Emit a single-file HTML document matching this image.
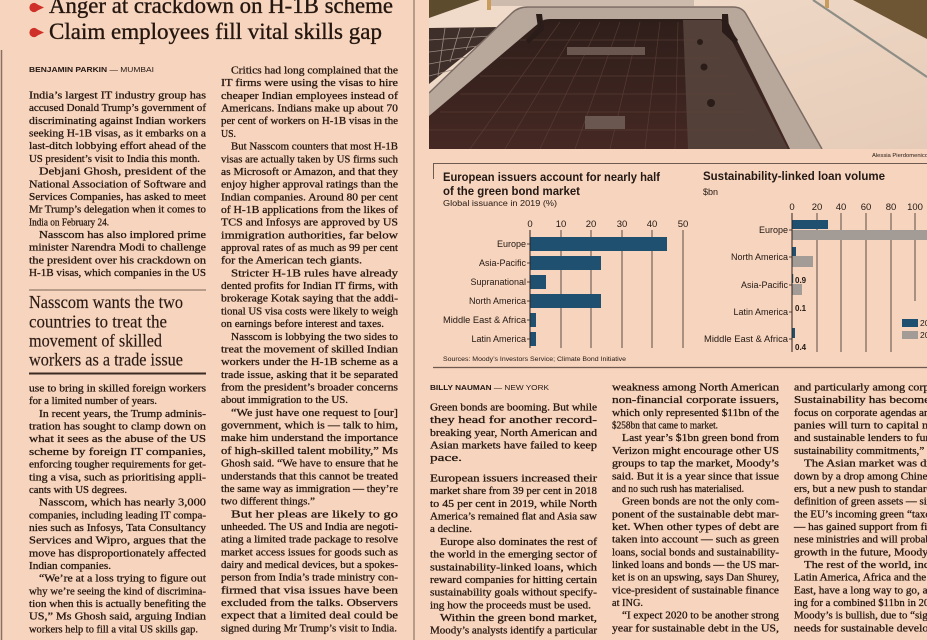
<!DOCTYPE html>
<html><head><meta charset="utf-8"><style>
html,body{margin:0;padding:0;background:#f6d4bd;width:927px;height:640px;overflow:hidden}
svg{display:block}
.b{font-family:"Liberation Serif",serif;font-size:11px;fill:#24160f;stroke:#24160f;stroke-width:0.28}
.s{font-family:"Liberation Sans",sans-serif;fill:#231814}
.hd{font-family:"Liberation Serif",serif;font-size:23px;fill:#24160f;stroke:#24160f;stroke-width:0.35}
.pq{font-family:"Liberation Serif",serif;font-size:17.5px;fill:#2a1a14;stroke:#2a1a14;stroke-width:0.15}
</style></head><body>
<svg width="927" height="640" viewBox="0 0 927 640" xmlns="http://www.w3.org/2000/svg">
<defs>
<clipPath id="ph"><rect x="429" y="0" width="498" height="149"/></clipPath>
<linearGradient id="pg" x1="0" y1="0" x2="0" y2="1"><stop offset="0" stop-color="#2e1e1a"/><stop offset="1" stop-color="#452823"/></linearGradient>
<linearGradient id="rg" x1="0" y1="0" x2="1" y2="1"><stop offset="0" stop-color="#f1dccb"/><stop offset="1" stop-color="#e6ccb8"/></linearGradient>
</defs>
<rect width="927" height="640" fill="#f6d4bd"/>

<line x1="1.5" y1="50" x2="1.5" y2="640" stroke="#8a7060" stroke-width="1.5"/>
<line x1="414" y1="0" x2="414" y2="640" stroke="#7a6458" stroke-width="1"/>

<g fill="#d0302a">
<circle cx="34" cy="7.5" r="4.6"/><polygon points="34,2.9 44,7.5 34,12.1"/>
<circle cx="34" cy="32.5" r="4.6"/><polygon points="34,27.9 44,32.5 34,37.1"/>
</g>
<text class="hd" x="49" y="13" textLength="344" lengthAdjust="spacingAndGlyphs">Anger at crackdown on H-1B scheme</text>
<text class="hd" x="49" y="39" textLength="333" lengthAdjust="spacingAndGlyphs">Claim employees fill vital skills gap</text>

<text class="s" x="29" y="72" font-size="7.5" textLength="125" lengthAdjust="spacingAndGlyphs"><tspan font-weight="bold">BENJAMIN PARKIN</tspan><tspan> — MUMBAI</tspan></text>

<g class="b">
<text x="29" y="98.5" textLength="177" lengthAdjust="spacingAndGlyphs">India’s largest IT industry group has</text>
<text x="29" y="111.2" textLength="177" lengthAdjust="spacingAndGlyphs">accused Donald Trump’s government of</text>
<text x="29" y="123.9" textLength="177" lengthAdjust="spacingAndGlyphs">discriminating against Indian workers</text>
<text x="29" y="136.5" textLength="177" lengthAdjust="spacingAndGlyphs">seeking H-1B visas, as it embarks on a</text>
<text x="29" y="149.2" textLength="177" lengthAdjust="spacingAndGlyphs">last-ditch lobbying effort ahead of the</text>
<text x="29" y="161.9" textLength="171" lengthAdjust="spacingAndGlyphs">US president’s visit to India this month.</text>
<text x="39" y="174.6" textLength="167" lengthAdjust="spacingAndGlyphs">Debjani Ghosh, president of the</text>
<text x="29" y="187.3" textLength="177" lengthAdjust="spacingAndGlyphs">National Association of Software and</text>
<text x="29" y="199.9" textLength="177" lengthAdjust="spacingAndGlyphs">Services Companies, has asked to meet</text>
<text x="29" y="212.6" textLength="177" lengthAdjust="spacingAndGlyphs">Mr Trump’s delegation when it comes to</text>
<text x="29" y="225.3" textLength="80" lengthAdjust="spacingAndGlyphs">India on February 24.</text>
<text x="39" y="238.0" textLength="167" lengthAdjust="spacingAndGlyphs">Nasscom has also implored prime</text>
<text x="29" y="250.7" textLength="177" lengthAdjust="spacingAndGlyphs">minister Narendra Modi to challenge</text>
<text x="29" y="263.3" textLength="177" lengthAdjust="spacingAndGlyphs">the president over his crackdown on</text>
<text x="29" y="276.0" textLength="177" lengthAdjust="spacingAndGlyphs">H-1B visas, which companies in the US</text>

<text x="29" y="391.5" textLength="177" lengthAdjust="spacingAndGlyphs">use to bring in skilled foreign workers</text>
<text x="29" y="404.2" textLength="128" lengthAdjust="spacingAndGlyphs">for a limited number of years.</text>
<text x="39" y="416.9" textLength="167" lengthAdjust="spacingAndGlyphs">In recent years, the Trump adminis-</text>
<text x="29" y="429.5" textLength="177" lengthAdjust="spacingAndGlyphs">tration has sought to clamp down on</text>
<text x="29" y="442.2" textLength="177" lengthAdjust="spacingAndGlyphs">what it sees as the abuse of the US</text>
<text x="29" y="454.9" textLength="177" lengthAdjust="spacingAndGlyphs">scheme by foreign IT companies,</text>
<text x="29" y="467.6" textLength="177" lengthAdjust="spacingAndGlyphs">enforcing tougher requirements for get-</text>
<text x="29" y="480.3" textLength="177" lengthAdjust="spacingAndGlyphs">ting a visa, such as prioritising appli-</text>
<text x="29" y="492.9" textLength="98" lengthAdjust="spacingAndGlyphs">cants with US degrees.</text>
<text x="39" y="505.6" textLength="167" lengthAdjust="spacingAndGlyphs">Nasscom, which has nearly 3,000</text>
<text x="29" y="518.3" textLength="177" lengthAdjust="spacingAndGlyphs">companies, including leading IT compa-</text>
<text x="29" y="531.0" textLength="177" lengthAdjust="spacingAndGlyphs">nies such as Infosys, Tata Consultancy</text>
<text x="29" y="543.7" textLength="177" lengthAdjust="spacingAndGlyphs">Services and Wipro, argues that the</text>
<text x="29" y="556.3" textLength="177" lengthAdjust="spacingAndGlyphs">move has disproportionately affected</text>
<text x="29" y="569.0" textLength="82" lengthAdjust="spacingAndGlyphs">Indian companies.</text>
<text x="39" y="581.7" textLength="167" lengthAdjust="spacingAndGlyphs">“We’re at a loss trying to figure out</text>
<text x="29" y="594.4" textLength="177" lengthAdjust="spacingAndGlyphs">why we’re seeing the kind of discrimina-</text>
<text x="29" y="607.1" textLength="177" lengthAdjust="spacingAndGlyphs">tion when this is actually benefiting the</text>
<text x="29" y="619.7" textLength="177" lengthAdjust="spacingAndGlyphs">US,” Ms Ghosh said, arguing Indian</text>
<text x="29" y="632.4" textLength="169" lengthAdjust="spacingAndGlyphs">workers help to fill a vital US skills gap.</text>
</g>

<line x1="29" y1="290" x2="206" y2="290" stroke="#7a6458" stroke-width="1"/>
<text class="pq" x="29" y="308" textLength="154" lengthAdjust="spacingAndGlyphs">Nasscom wants the two</text>
<text class="pq" x="29" y="327.5" textLength="138" lengthAdjust="spacingAndGlyphs">countries to treat the</text>
<text class="pq" x="29" y="346.5" textLength="133" lengthAdjust="spacingAndGlyphs">movement of skilled</text>
<text class="pq" x="29" y="365.5" textLength="154" lengthAdjust="spacingAndGlyphs">workers as a trade issue</text>
<line x1="29" y1="373.5" x2="206" y2="373.5" stroke="#3a2a22" stroke-width="2"/>

<g class="b">
<text x="231" y="73.5" textLength="167" lengthAdjust="spacingAndGlyphs">Critics had long complained that the</text>
<text x="221" y="86.2" textLength="177" lengthAdjust="spacingAndGlyphs">IT firms were using the visas to hire</text>
<text x="221" y="98.9" textLength="177" lengthAdjust="spacingAndGlyphs">cheaper Indian employees instead of</text>
<text x="221" y="111.5" textLength="177" lengthAdjust="spacingAndGlyphs">Americans. Indians make up about 70</text>
<text x="221" y="124.2" textLength="177" lengthAdjust="spacingAndGlyphs">per cent of workers on H-1B visas in the</text>
<text x="221" y="136.9" textLength="15" lengthAdjust="spacingAndGlyphs">US.</text>
<text x="231" y="149.6" textLength="167" lengthAdjust="spacingAndGlyphs">But Nasscom counters that most H-1B</text>
<text x="221" y="162.3" textLength="177" lengthAdjust="spacingAndGlyphs">visas are actually taken by US firms such</text>
<text x="221" y="174.9" textLength="177" lengthAdjust="spacingAndGlyphs">as Microsoft or Amazon, and that they</text>
<text x="221" y="187.6" textLength="177" lengthAdjust="spacingAndGlyphs">enjoy higher approval ratings than the</text>
<text x="221" y="200.3" textLength="177" lengthAdjust="spacingAndGlyphs">Indian companies. Around 80 per cent</text>
<text x="221" y="213.0" textLength="177" lengthAdjust="spacingAndGlyphs">of H-1B applications from the likes of</text>
<text x="221" y="225.7" textLength="177" lengthAdjust="spacingAndGlyphs">TCS and Infosys are approved by US</text>
<text x="221" y="238.3" textLength="177" lengthAdjust="spacingAndGlyphs">immigration authorities, far below</text>
<text x="221" y="251.0" textLength="177" lengthAdjust="spacingAndGlyphs">approval rates of as much as 99 per cent</text>
<text x="221" y="263.7" textLength="141" lengthAdjust="spacingAndGlyphs">for the American tech giants.</text>
<text x="231" y="276.4" textLength="167" lengthAdjust="spacingAndGlyphs">Stricter H-1B rules have already</text>
<text x="221" y="289.1" textLength="177" lengthAdjust="spacingAndGlyphs">dented profits for Indian IT firms, with</text>
<text x="221" y="301.7" textLength="177" lengthAdjust="spacingAndGlyphs">brokerage Kotak saying that the addi-</text>
<text x="221" y="314.4" textLength="177" lengthAdjust="spacingAndGlyphs">tional US visa costs were likely to weigh</text>
<text x="221" y="327.1" textLength="163" lengthAdjust="spacingAndGlyphs">on earnings before interest and taxes.</text>
<text x="231" y="339.8" textLength="167" lengthAdjust="spacingAndGlyphs">Nasscom is lobbying the two sides to</text>
<text x="221" y="352.5" textLength="177" lengthAdjust="spacingAndGlyphs">treat the movement of skilled Indian</text>
<text x="221" y="365.1" textLength="177" lengthAdjust="spacingAndGlyphs">workers under the H-1B scheme as a</text>
<text x="221" y="377.8" textLength="177" lengthAdjust="spacingAndGlyphs">trade issue, asking that it be separated</text>
<text x="221" y="390.5" textLength="177" lengthAdjust="spacingAndGlyphs">from the president’s broader concerns</text>
<text x="221" y="403.2" textLength="127" lengthAdjust="spacingAndGlyphs">about immigration to the US.</text>
<text x="231" y="415.9" textLength="167" lengthAdjust="spacingAndGlyphs">“We just have one request to [our]</text>
<text x="221" y="428.5" textLength="177" lengthAdjust="spacingAndGlyphs">government, which is — talk to him,</text>
<text x="221" y="441.2" textLength="177" lengthAdjust="spacingAndGlyphs">make him understand the importance</text>
<text x="221" y="453.9" textLength="177" lengthAdjust="spacingAndGlyphs">of high-skilled talent mobility,” Ms</text>
<text x="221" y="466.6" textLength="177" lengthAdjust="spacingAndGlyphs">Ghosh said. “We have to ensure that he</text>
<text x="221" y="479.3" textLength="177" lengthAdjust="spacingAndGlyphs">understands that this cannot be treated</text>
<text x="221" y="491.9" textLength="177" lengthAdjust="spacingAndGlyphs">the same way as immigration — they’re</text>
<text x="221" y="504.6" textLength="94" lengthAdjust="spacingAndGlyphs">two different things.”</text>
<text x="231" y="517.3" textLength="167" lengthAdjust="spacingAndGlyphs">But her pleas are likely to go</text>
<text x="221" y="530.0" textLength="177" lengthAdjust="spacingAndGlyphs">unheeded. The US and India are negoti-</text>
<text x="221" y="542.7" textLength="177" lengthAdjust="spacingAndGlyphs">ating a limited trade package to resolve</text>
<text x="221" y="555.3" textLength="177" lengthAdjust="spacingAndGlyphs">market access issues for goods such as</text>
<text x="221" y="568.0" textLength="177" lengthAdjust="spacingAndGlyphs">dairy and medical devices, but a spokes-</text>
<text x="221" y="580.7" textLength="177" lengthAdjust="spacingAndGlyphs">person from India’s trade ministry con-</text>
<text x="221" y="593.4" textLength="177" lengthAdjust="spacingAndGlyphs">firmed that visa issues have been</text>
<text x="221" y="606.1" textLength="177" lengthAdjust="spacingAndGlyphs">excluded from the talks. Observers</text>
<text x="221" y="618.7" textLength="177" lengthAdjust="spacingAndGlyphs">expect that a limited deal could be</text>
<text x="221" y="631.4" textLength="176" lengthAdjust="spacingAndGlyphs">signed during Mr Trump’s visit to India.</text>
</g>

<g clip-path="url(#ph)">
<rect x="429" y="0" width="498" height="149" fill="url(#rg)"/>
<polygon points="429,0 480,0 429,18" fill="#5d4b2e"/>
<polygon points="853,0 927,0 927,39" fill="#6e5634"/>
<line x1="813" y1="0" x2="927" y2="77" stroke="#8d8e86" stroke-width="2.2"/>
<rect x="487" y="0" width="207" height="6" fill="#cdbcae"/>
<rect x="487" y="0" width="4" height="10" fill="#c89c5c"/>
<rect x="825" y="0" width="4" height="8" fill="#c89c5c"/>
<polygon points="429,28 500,27 429,84" fill="#3e2f2a"/>
<g stroke="#9a8a80" stroke-width="0.8">
<line x1="429" y1="40" x2="490" y2="36"/><line x1="429" y1="52" x2="478" y2="46"/><line x1="429" y1="64" x2="466" y2="57"/><line x1="429" y1="76" x2="452" y2="70"/>
<line x1="445" y1="28" x2="438" y2="76"/><line x1="460" y1="28" x2="450" y2="62"/><line x1="475" y1="28" x2="466" y2="50"/>
</g>
<path d="M429,93 L512,13 Q518,7 528,7 L733,7 Q742,7 746,14 L822,149 L429,149 Z" fill="#b8a79b"/>
<path d="M429,93 L512,13 Q518,7 528,7 L733,7 Q742,7 746,14 L822,149" fill="none" stroke="#7a6a62" stroke-width="1.5"/>
<path d="M429,116 L540,22 Q544,19 550,19 L720,19 Q726,19 729,24 L790,149 L429,149 Z" fill="url(#pg)"/>
<polygon points="683,20 721,20 788,149 688,149" fill="#524039"/>
<g stroke="#5e4038" stroke-width="0.7" opacity="0.8">
<line x1="560" y1="22" x2="470" y2="149"/><line x1="580" y1="22" x2="505" y2="149"/><line x1="600" y1="22" x2="540" y2="149"/><line x1="620" y1="22" x2="575" y2="149"/><line x1="640" y1="22" x2="610" y2="149"/><line x1="660" y1="22" x2="645" y2="149"/><line x1="678" y1="22" x2="675" y2="149"/>
<line x1="520" y1="40" x2="710" y2="40"/><line x1="500" y1="58" x2="718" y2="58"/><line x1="480" y1="76" x2="726" y2="76"/><line x1="460" y1="94" x2="736" y2="94"/><line x1="440" y1="112" x2="746" y2="112"/><line x1="429" y1="130" x2="756" y2="130"/>
</g>
<rect x="567" y="47" width="78" height="8" fill="#6a5850"/>
<rect x="585" y="116" width="40" height="13" fill="#6a5850"/>
<circle cx="700" cy="42" r="3" fill="#2a1c18"/>
<circle cx="704" cy="67" r="3.5" fill="#2a1c18"/>
<circle cx="711" cy="103" r="4" fill="#2a1c18"/>
<path d="M536,14 L542,14 L544,30 L528,44 L526,40 L538,28 Z" fill="#2a1c18"/>
<path d="M722,14 L728,14 L729,28 L738,40 L735,44 L722,32 Z" fill="#2a1c18"/>
</g>
<text class="s" x="872" y="157" font-size="5.5" textLength="56" lengthAdjust="spacingAndGlyphs">Alessia Pierdomenico</text>

<line x1="433" y1="163.5" x2="927" y2="163.5" stroke="#6e5a50" stroke-width="1"/>
<line x1="433.5" y1="163" x2="433.5" y2="179" stroke="#6e5a50" stroke-width="1"/>
<line x1="433" y1="367.5" x2="927" y2="367.5" stroke="#6e5a50" stroke-width="1.2"/>

<text class="s" x="443" y="181" font-size="11.5" font-weight="bold" textLength="217" lengthAdjust="spacingAndGlyphs">European issuers account for nearly half</text>
<text class="s" x="443" y="195" font-size="11.5" font-weight="bold" textLength="137" lengthAdjust="spacingAndGlyphs">of the green bond market</text>
<text class="s" x="443" y="206" font-size="8" textLength="114" lengthAdjust="spacingAndGlyphs">Global issuance in 2019 (%)</text>
<g class="s" font-size="9.5" text-anchor="middle">
<text x="530" y="227">0</text><text x="561" y="227">10</text><text x="591" y="227">20</text><text x="622" y="227">30</text><text x="652" y="227">40</text><text x="683" y="227">50</text>
</g>
<g stroke="#4e3e38" stroke-width="0.9">
<line x1="561" y1="230" x2="561" y2="348"/><line x1="591" y1="230" x2="591" y2="348"/><line x1="622" y1="230" x2="622" y2="348"/><line x1="652" y1="230" x2="652" y2="348"/><line x1="683" y1="230" x2="683" y2="348"/>
</g>
<g fill="#1f5070">
<rect x="530" y="237" width="137" height="14"/>
<rect x="530" y="256" width="71" height="14"/>
<rect x="530" y="275" width="16" height="14"/>
<rect x="530" y="294" width="71" height="14"/>
<rect x="530" y="313" width="6" height="14"/>
<rect x="530" y="332" width="6" height="14"/>
</g>
<line x1="530" y1="230" x2="530" y2="348" stroke="#2e221e" stroke-width="1"/>
<g stroke="#2e221e" stroke-width="0.8">
<line x1="527" y1="244" x2="530" y2="244"/><line x1="527" y1="263" x2="530" y2="263"/><line x1="527" y1="282" x2="530" y2="282"/><line x1="527" y1="301" x2="530" y2="301"/><line x1="527" y1="320" x2="530" y2="320"/><line x1="527" y1="339" x2="530" y2="339"/>
</g>
<g class="s" font-size="9" text-anchor="end">
<text x="526" y="247">Europe</text>
<text x="526" y="266">Asia-Pacific</text>
<text x="526" y="285">Supranational</text>
<text x="526" y="304">North America</text>
<text x="526" y="323" textLength="83" lengthAdjust="spacingAndGlyphs">Middle East &amp; Africa</text>
<text x="526" y="342">Latin America</text>
</g>
<text class="s" x="443" y="361" font-size="6.5" textLength="183" lengthAdjust="spacingAndGlyphs">Sources: Moody’s Investors Service; Climate Bond Initiative</text>

<text class="s" x="703" y="180" font-size="11.5" font-weight="bold" textLength="182" lengthAdjust="spacingAndGlyphs">Sustainability-linked loan volume</text>
<text class="s" x="703" y="195" font-size="9">$bn</text>
<g class="s" font-size="9.5" text-anchor="middle">
<text x="792" y="210">0</text><text x="817" y="210">20</text><text x="841" y="210">40</text><text x="866" y="210">60</text><text x="891" y="210">80</text><text x="915" y="210">100</text>
</g>
<g stroke="#4e3e38" stroke-width="0.9">
<line x1="817" y1="213" x2="817" y2="352"/><line x1="841" y1="213" x2="841" y2="352"/><line x1="866" y1="213" x2="866" y2="352"/><line x1="891" y1="213" x2="891" y2="352"/><line x1="915" y1="213" x2="915" y2="301"/>
</g>
<rect x="792" y="220" width="36" height="9" fill="#1f5070"/>
<rect x="792" y="230" width="135" height="10" fill="#a39b95"/>
<rect x="792" y="247" width="4" height="9" fill="#1f5070"/>
<rect x="792" y="256" width="21" height="11" fill="#a39b95"/>
<rect x="792" y="274" width="1.2" height="9" fill="#1f5070"/>
<rect x="792" y="284" width="10" height="11" fill="#a39b95"/>
<rect x="792" y="328" width="3" height="10" fill="#1f5070"/>
<line x1="792" y1="213" x2="792" y2="352" stroke="#2e221e" stroke-width="1"/>
<g stroke="#2e221e" stroke-width="0.8">
<line x1="789" y1="230" x2="792" y2="230"/><line x1="789" y1="257" x2="792" y2="257"/><line x1="789" y1="285" x2="792" y2="285"/><line x1="789" y1="312" x2="792" y2="312"/><line x1="789" y1="339" x2="792" y2="339"/>
</g>
<g class="s" font-size="9" text-anchor="end">
<text x="788" y="233">Europe</text>
<text x="788" y="260">North America</text>
<text x="788" y="288">Asia-Pacific</text>
<text x="788" y="315">Latin America</text>
<text x="788" y="342" textLength="84" lengthAdjust="spacingAndGlyphs">Middle East &amp; Africa</text>
</g>
<g class="s" font-size="8" font-weight="bold">
<text x="795" y="283">0.9</text>
<text x="795" y="311">0.1</text>
<text x="795" y="350">0.4</text>
</g>
<rect x="902" y="319" width="16" height="8" fill="#1f5070"/>
<rect x="902" y="331" width="16" height="8" fill="#a39b95"/>
<g class="s" font-size="8.5"><text x="920" y="326">2018</text><text x="920" y="338">2019</text></g>

<text class="s" x="430" y="390" font-size="7.5" textLength="119" lengthAdjust="spacingAndGlyphs"><tspan font-weight="bold">BILLY NAUMAN</tspan><tspan> — NEW YORK</tspan></text>

<g class="b">
<text x="430" y="410.5" textLength="167" lengthAdjust="spacingAndGlyphs">Green bonds are booming. But while</text>
<text x="430" y="423.2" textLength="167" lengthAdjust="spacingAndGlyphs">they head for another record-</text>
<text x="430" y="435.9" textLength="167" lengthAdjust="spacingAndGlyphs">breaking year, North American and</text>
<text x="430" y="448.5" textLength="167" lengthAdjust="spacingAndGlyphs">Asian markets have failed to keep</text>
<text x="430" y="461.2" textLength="32" lengthAdjust="spacingAndGlyphs">pace.</text>
<text x="430" y="481.5" textLength="167" lengthAdjust="spacingAndGlyphs">European issuers increased their</text>
<text x="430" y="494.2" textLength="167" lengthAdjust="spacingAndGlyphs">market share from 39 per cent in 2018</text>
<text x="430" y="506.9" textLength="167" lengthAdjust="spacingAndGlyphs">to 45 per cent in 2019, while North</text>
<text x="430" y="519.5" textLength="167" lengthAdjust="spacingAndGlyphs">America’s remained flat and Asia saw</text>
<text x="430" y="532.2" textLength="42" lengthAdjust="spacingAndGlyphs">a decline.</text>
<text x="440" y="544.9" textLength="157" lengthAdjust="spacingAndGlyphs">Europe also dominates the rest of</text>
<text x="430" y="557.6" textLength="167" lengthAdjust="spacingAndGlyphs">the world in the emerging sector of</text>
<text x="430" y="570.3" textLength="167" lengthAdjust="spacingAndGlyphs">sustainability-linked loans, which</text>
<text x="430" y="582.9" textLength="167" lengthAdjust="spacingAndGlyphs">reward companies for hitting certain</text>
<text x="430" y="595.6" textLength="167" lengthAdjust="spacingAndGlyphs">sustainability goals without specify-</text>
<text x="430" y="608.3" textLength="161" lengthAdjust="spacingAndGlyphs">ing how the proceeds must be used.</text>
<text x="440" y="621.0" textLength="157" lengthAdjust="spacingAndGlyphs">Within the green bond market,</text>
<text x="430" y="633.7" textLength="167" lengthAdjust="spacingAndGlyphs">Moody’s analysts identify a particular</text>
</g>

<g class="b">
<text x="612" y="390.5" textLength="167" lengthAdjust="spacingAndGlyphs">weakness among North American</text>
<text x="612" y="403.2" textLength="167" lengthAdjust="spacingAndGlyphs">non-financial corporate issuers,</text>
<text x="612" y="415.9" textLength="167" lengthAdjust="spacingAndGlyphs">which only represented $11bn of the</text>
<text x="612" y="428.5" textLength="106" lengthAdjust="spacingAndGlyphs">$258bn that came to market.</text>
<text x="622" y="441.2" textLength="157" lengthAdjust="spacingAndGlyphs">Last year’s $1bn green bond from</text>
<text x="612" y="453.9" textLength="167" lengthAdjust="spacingAndGlyphs">Verizon might encourage other US</text>
<text x="612" y="466.6" textLength="167" lengthAdjust="spacingAndGlyphs">groups to tap the market, Moody’s</text>
<text x="612" y="479.3" textLength="167" lengthAdjust="spacingAndGlyphs">said. But it is a year since that issue</text>
<text x="612" y="491.9" textLength="132" lengthAdjust="spacingAndGlyphs">and no such rush has materialised.</text>
<text x="622" y="504.6" textLength="157" lengthAdjust="spacingAndGlyphs">Green bonds are not the only com-</text>
<text x="612" y="517.3" textLength="167" lengthAdjust="spacingAndGlyphs">ponent of the sustainable debt mar-</text>
<text x="612" y="530.0" textLength="167" lengthAdjust="spacingAndGlyphs">ket. When other types of debt are</text>
<text x="612" y="542.7" textLength="167" lengthAdjust="spacingAndGlyphs">taken into account — such as green</text>
<text x="612" y="555.3" textLength="167" lengthAdjust="spacingAndGlyphs">loans, social bonds and sustainability-</text>
<text x="612" y="568.0" textLength="167" lengthAdjust="spacingAndGlyphs">linked loans and bonds — the US mar-</text>
<text x="612" y="580.7" textLength="167" lengthAdjust="spacingAndGlyphs">ket is on an upswing, says Dan Shurey,</text>
<text x="612" y="593.4" textLength="167" lengthAdjust="spacingAndGlyphs">vice-president of sustainable finance</text>
<text x="612" y="606.1" textLength="31" lengthAdjust="spacingAndGlyphs">at ING.</text>
<text x="622" y="618.7" textLength="157" lengthAdjust="spacingAndGlyphs">“I expect 2020 to be another strong</text>
<text x="612" y="631.4" textLength="167" lengthAdjust="spacingAndGlyphs">year for sustainable debt in the US,</text>
</g>

<g class="b">
<text x="794" y="390.5" textLength="167" lengthAdjust="spacingAndGlyphs">and particularly among corporates.</text>
<text x="794" y="403.2" textLength="167" lengthAdjust="spacingAndGlyphs">Sustainability has become a key</text>
<text x="794" y="415.9" textLength="167" lengthAdjust="spacingAndGlyphs">focus on corporate agendas and com-</text>
<text x="794" y="428.5" textLength="167" lengthAdjust="spacingAndGlyphs">panies will turn to capital markets</text>
<text x="794" y="441.2" textLength="167" lengthAdjust="spacingAndGlyphs">and sustainable lenders to fund their</text>
<text x="794" y="453.9" textLength="167" lengthAdjust="spacingAndGlyphs">sustainability commitments,” he said.</text>
<text x="804" y="466.6" textLength="157" lengthAdjust="spacingAndGlyphs">The Asian market was dragged</text>
<text x="794" y="479.3" textLength="167" lengthAdjust="spacingAndGlyphs">down by a drop among Chinese issu-</text>
<text x="794" y="491.9" textLength="167" lengthAdjust="spacingAndGlyphs">ers, but a new push to standardise the</text>
<text x="794" y="504.6" textLength="167" lengthAdjust="spacingAndGlyphs">definition of green assets — similar to</text>
<text x="794" y="517.3" textLength="167" lengthAdjust="spacingAndGlyphs">the EU’s incoming green “taxonomy”</text>
<text x="794" y="530.0" textLength="167" lengthAdjust="spacingAndGlyphs">— has gained support from five Chi-</text>
<text x="794" y="542.7" textLength="167" lengthAdjust="spacingAndGlyphs">nese ministries and will probably spur</text>
<text x="794" y="555.3" textLength="167" lengthAdjust="spacingAndGlyphs">growth in the future, Moody’s said.</text>
<text x="804" y="568.0" textLength="157" lengthAdjust="spacingAndGlyphs">The rest of the world, including</text>
<text x="794" y="580.7" textLength="167" lengthAdjust="spacingAndGlyphs">Latin America, Africa and the Middle</text>
<text x="794" y="593.4" textLength="167" lengthAdjust="spacingAndGlyphs">East, have a long way to go, account-</text>
<text x="794" y="606.1" textLength="167" lengthAdjust="spacingAndGlyphs">ing for a combined $11bn in 2019. But</text>
<text x="794" y="618.7" textLength="167" lengthAdjust="spacingAndGlyphs">Moody’s is bullish, due to “significant</text>
<text x="794" y="631.4" textLength="167" lengthAdjust="spacingAndGlyphs">needs for sustainable development.</text>
</g>
</svg>
</body></html>
